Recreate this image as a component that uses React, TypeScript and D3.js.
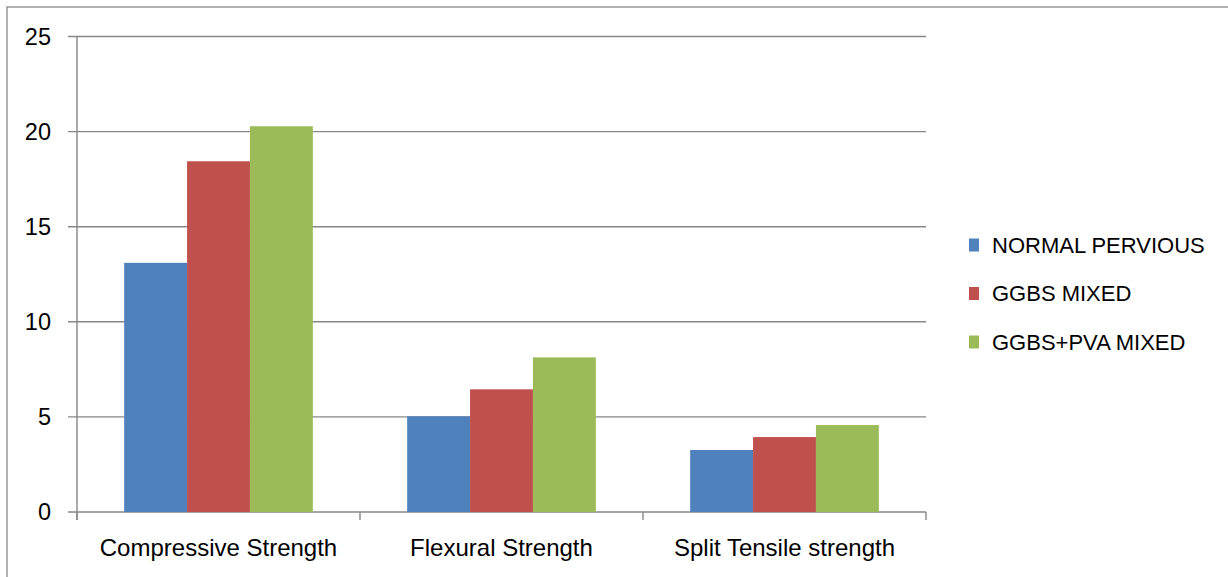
import React from "react";
import * as d3 from "d3";

const categories = ["Compressive Strength", "Flexural Strength", "Split Tensile strength"];
const seriesNames = ["NORMAL PERVIOUS", "GGBS MIXED", "GGBS+PVA MIXED"];
const normalPervious = [13.1, 5.03, 3.26];
const ggbsMixed = [18.44, 6.45, 3.94];
const ggbsPvaMixed = [20.28, 8.13, 4.57];
const yTicks = [0, 5, 10, 15, 20, 25];
const colors = ["#4F81BD", "#C0504D", "#9BBB59"];

const W = 1228;
const H = 577;
const left = 77;
const right = 926;
const top = 36.5;
const bottom = 512;
const FONT = "'Liberation Sans', Arial, sans-serif";
const GRID = "#878787";

export default function App() {
  const series = [normalPervious, ggbsMixed, ggbsPvaMixed];
  const x = d3.scaleBand<string>().domain(categories).range([left, right]).paddingInner(0).paddingOuter(0);
  const inner = d3
    .scaleBand<number>()
    .domain(d3.range(series.length))
    .range([0, x.bandwidth()])
    .paddingOuter(0.75)
    .paddingInner(0);
  const y = d3.scaleLinear().domain([0, 25]).range([bottom, top]);

  const boundaries = [...categories.map((c) => x(c) as number), right];

  return (
    <div style={{ position: "absolute", left: 0, top: 0 }}>
      <svg width={W} height={H} style={{ display: "block", background: "#fff" }}>
        <rect x={7} y={7} width={W + 10} height={H + 10} fill="#fff" stroke={GRID} strokeWidth={1.3} />
        {yTicks.map((t) => (
          <g key={t}>
            <line x1={68} x2={right} y1={y(t)} y2={y(t)} stroke={GRID} strokeWidth={1.4} />
            <text x={51} y={y(t)} textAnchor="end" dominantBaseline="central" fontFamily={FONT} fontSize={23.5} fill="#000">
              {t}
            </text>
          </g>
        ))}
        <line x1={left} x2={left} y1={top} y2={bottom + 8} stroke={GRID} strokeWidth={1.4} />
        {boundaries.map((b, i) => (
          <line key={i} x1={b} x2={b} y1={bottom} y2={bottom + 8} stroke={GRID} strokeWidth={1.4} />
        ))}
        {categories.map((c, ci) => (
          <g key={c}>
            {series.map((s, si) => (
              <rect
                key={si}
                x={(x(c) as number) + (inner(si) as number)}
                y={y(s[ci])}
                width={inner.bandwidth()}
                height={bottom - y(s[ci])}
                fill={colors[si]}
              />
            ))}
            <text
              x={(x(c) as number) + x.bandwidth() / 2}
              y={547}
              textAnchor="middle"
              dominantBaseline="central"
              fontFamily={FONT}
              fontSize={24}
              fill="#000"
            >
              {c}
            </text>
          </g>
        ))}
        {seriesNames.map((n, i) => {
          const cy = 245 + i * 48.5;
          return (
            <g key={n}>
              <rect x={969} y={cy - 6.5} width={10} height={13} fill={colors[i]} />
              <text x={992} y={cy} dominantBaseline="central" fontFamily={FONT} fontSize={22} fill="#000">
                {n}
              </text>
            </g>
          );
        })}
      </svg>
    </div>
  );
}
